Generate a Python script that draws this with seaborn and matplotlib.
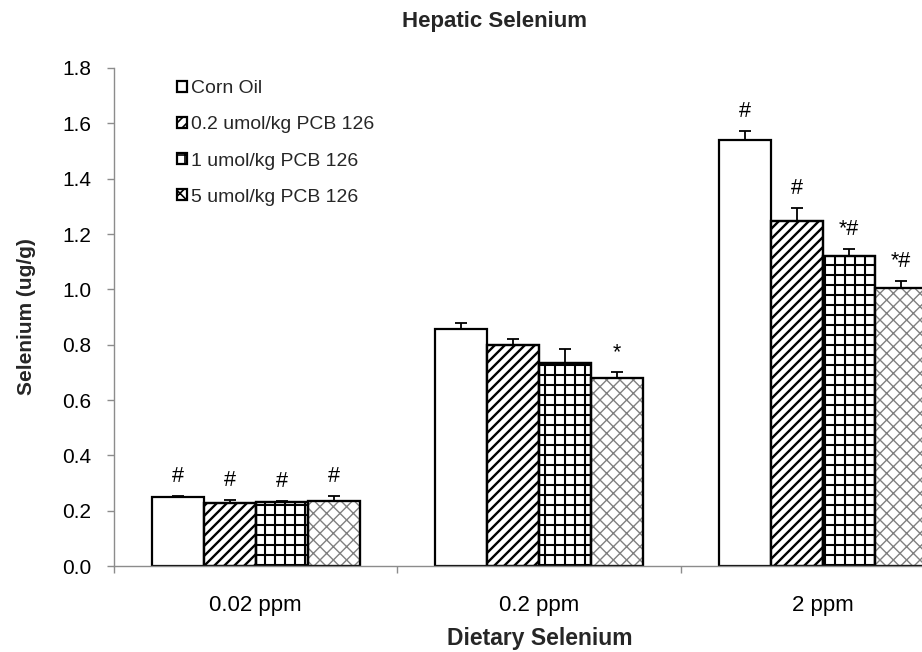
import matplotlib
matplotlib.use("Agg")
import matplotlib.pyplot as plt
from matplotlib.patches import Patch, Rectangle
from matplotlib.container import BarContainer
import seaborn as sns
import pandas as pd

# ---- data ----
doses = ["0.02 ppm", "0.2 ppm", "2 ppm"]
treatments = ["Corn Oil", "0.2 umol/kg PCB 126", "1 umol/kg PCB 126", "5 umol/kg PCB 126"]
corn_oil = [0.250, 0.855, 1.540]
pcb_02 = [0.227, 0.800, 1.248]
pcb_1 = [0.231, 0.735, 1.120]
pcb_5 = [0.235, 0.678, 1.005]
corn_oil_err = [0.002, 0.022, 0.034]
pcb_02_err = [0.011, 0.020, 0.047]
pcb_1_err = [0.003, 0.050, 0.026]
pcb_5_err = [0.019, 0.023, 0.025]
corn_oil_marks = ["#", "", "#"]
pcb_02_marks = ["#", "", "#"]
pcb_1_marks = ["#", "", "*#"]
pcb_5_marks = ["#", "*", "*#"]
yticks = [0.0, 0.2, 0.4, 0.6, 0.8, 1.0, 1.2, 1.4, 1.6, 1.8]

values = [corn_oil, pcb_02, pcb_1, pcb_5]
errors = [corn_oil_err, pcb_02_err, pcb_1_err, pcb_5_err]
marks = [corn_oil_marks, pcb_02_marks, pcb_1_marks, pcb_5_marks]

rows = []
for t, vals in zip(treatments, values):
    for d, v in zip(doses, vals):
        rows.append({"dose": d, "treatment": t, "value": v})
df = pd.DataFrame(rows)

sns.set_theme(style="ticks")
plt.rcParams["font.family"] = ["Liberation Sans", "DejaVu Sans"]

DPI = 120
K = 100 / DPI  # convert sizes tuned at 100 dpi


def pt(v):
    return v * K


W, H = 922, 652
fig = plt.figure(figsize=(W / DPI, H / DPI), dpi=DPI)
ax_left, ax_right, ax_top, ax_bottom = 113.7, 964.8, 68, 566
ax = fig.add_axes([ax_left / W, 1 - ax_bottom / H, (ax_right - ax_left) / W, (ax_bottom - ax_top) / H])

sns.barplot(data=df, x="dose", y="value", hue="treatment", order=doses, hue_order=treatments,
            errorbar=None, width=0.733, gap=0, palette=["white"] * 4, saturation=1,
            edgecolor="black", linewidth=pt(1.6), legend=False, ax=ax)

hatches = [None, "////", "++", "xxx"]
hatch_colors = ["black", "black", "black", "#808080"]
hatch_lw = [1.0, 1.7, 1.5, 1.0]

bar_containers = [c for c in ax.containers if isinstance(c, BarContainer)]
for ci, cont in enumerate(bar_containers):
    for bi, p in enumerate(cont.patches):
        if hatches[ci]:
            p.set_hatch(hatches[ci])
            p.set_edgecolor(hatch_colors[ci])
            if hasattr(p, "set_hatch_linewidth"):
                p.set_hatch_linewidth(pt(hatch_lw[ci]))
            ax.add_patch(Rectangle(p.get_xy(), p.get_width(), p.get_height(), fill=False,
                                   edgecolor="black", linewidth=pt(1.6), zorder=p.get_zorder() + 0.1))
        x = p.get_x() + p.get_width() / 2
        top = p.get_height()
        err = errors[ci][bi]
        ax.errorbar([x], [top], yerr=[[0], [err]], fmt="none", ecolor="black",
                    elinewidth=pt(1.3), capsize=pt(4), capthick=pt(1.3), zorder=5)
        m = marks[ci][bi]
        if m:
            ax.annotate(m, xy=(x, top + err), xytext=(0, pt(14)), textcoords="offset points",
                        ha="center", va="center", fontsize=pt(15.5), color="black")

ax.set_xlim(-0.5, 2.5)
ax.set_ylim(0, 1.8)
ax.set_yticks(yticks)
ax.set_yticklabels([f"{t:.1f}" for t in yticks], fontsize=pt(15))
ax.set_xticks(range(len(doses)))
ax.set_xticklabels(doses, fontsize=pt(16))
ax.set_xticks([-0.5, 0.5, 1.5, 2.5], minor=True)
ax.tick_params(axis="x", which="major", length=0, pad=pt(21), colors="black")
ax.tick_params(axis="x", which="minor", length=pt(5), width=pt(1), color="#8c8c8c", direction="out")
ax.tick_params(axis="y", which="major", length=pt(5), width=pt(1), color="#8c8c8c", pad=pt(11),
               labelcolor="black")
ax.set_xlabel("")
ax.set_ylabel("")
for s in ["top", "right"]:
    ax.spines[s].set_visible(False)
for s in ["left", "bottom"]:
    ax.spines[s].set_color("#8c8c8c")
    ax.spines[s].set_linewidth(pt(1.0))
ax.set_facecolor("white")

# legend
handles = []
for ci, t in enumerate(treatments):
    h = Patch(facecolor="white", edgecolor="black", hatch=hatches[ci], linewidth=pt(1.6), label=t)
    handles.append(h)
fig.legend(handles=handles, loc="upper left", bbox_to_anchor=(177 / W, 1 - 80 / H),
           frameon=False, fontsize=pt(14), handlelength=0.5, handleheight=0.5,
           handletextpad=0.22, labelspacing=0.99, borderpad=0, borderaxespad=0)

fig.text(495 / W, 1 - 22 / H, "Hepatic Selenium", ha="center", va="center",
         fontsize=pt(16), fontweight="bold")
fig.text(540 / W, 1 - 639 / H, "Dietary Selenium", ha="center", va="center",
         fontsize=pt(16.5), fontweight="bold")
fig.text(27 / W, 1 - 317 / H, "Selenium (ug/g)", ha="center", va="center",
         rotation=90, fontsize=pt(15), fontweight="bold")

fig.savefig("out.png", dpi=DPI, facecolor="white")
